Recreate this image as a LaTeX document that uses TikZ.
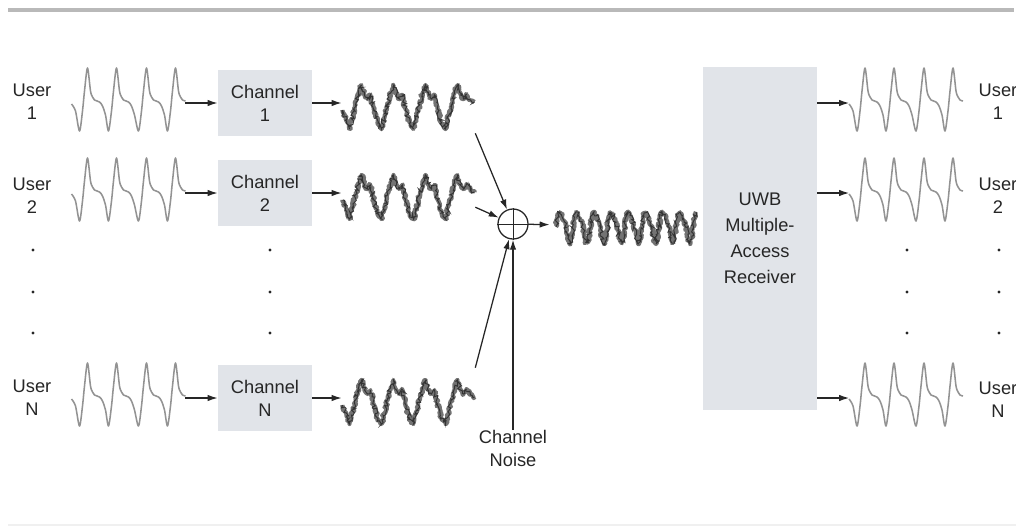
\documentclass[tikz,border=0pt]{standalone}
\usepackage{fontspec}
\setmainfont{Liberation Sans}
\usetikzlibrary{positioning,
        arrows.meta,
        decorations.pathmorphing}
\definecolor{boxgray}{RGB}{225,228,233}

\tikzset{
  lbl/.style={align=center, font=\fontsize{13}{16.3}\selectfont, text=black!85, inner sep=1pt},
  chbox/.style={lbl, fill=boxgray, minimum width=2.35cm, minimum height=1.65cm},
  wavebox/.style={inner sep=0, minimum width=2.825cm, minimum height=1.75cm},
  noisebox/.style={inner sep=0, minimum width=3.325cm, minimum height=1.5cm},
  arr/.style={-{Latex[length=2.5mm,width=1.6mm]}, line width=0.9pt, black!85},
  pulsepen/.style={gray!85, line width=1.1pt, line join=round},
  fuzzA/.style={black!55, line width=3pt, line join=round, decorate,
    decoration={random steps, segment length=1pt, amplitude=1.1pt}},
  fuzzB/.style={black!80, line width=0.7pt, decorate,
    decoration={random steps, segment length=1.2pt, amplitude=1.6pt}},
  % clean pulse train, drawn round the centre of its node
  pulses/.pic={
    \draw[pulsepen] plot[smooth, tension=0.5] coordinates {
      (-57,1) (-53,8) (-49,28)
      (-46,8) (-44,-12) (-41,-35) (-38,-12) (-36,-6) (-34,-3) (-29,-1) (-26,3) (-23,12) (-20,28)
      (-17,8) (-15,-12) (-12,-35) (-9,-12) (-7,-6) (-5,-3) (0,-1) (3,3) (6,12) (10,28)
      (13,8) (15,-12) (18,-35) (21,-12) (23,-6) (25,-3) (30,-1) (33,3) (36,12) (39,28)
      (42,8) (44,-12) (47,-35) (50,-12) (52,-6) (54,-3) (57,-2)};
  },
  % distorted pulse train after the channel
  noisy/.pic={
    \foreach \pen in {fuzzA,fuzzB}
      \draw[\pen] plot coordinates {
        (-66,7) (-62,18) (-59,26)
        (-53,2) (-50,-10) (-47,-18) (-44,-8) (-41,-4) (-38,-8) (-35,6) (-31,20) (-27,26)
        (-21,2) (-18,-10) (-15,-18) (-12,-8) (-9,-4) (-6,-8) (-3,6) (1,20) (5,26)
        (11,2) (14,-10) (17,-18) (20,-8) (23,-4) (26,-8) (29,6) (33,20) (37,26)
        (43,2) (46,-10) (49,-18) (52,-8) (55,-4) (58,-9) (62,-3) (66,-1)};
  },
  % sum of all users plus noise
  mixed/.pic={
    \foreach \pen in {fuzzA,fuzzB}
      \draw[\pen] plot[domain=-69:71, samples=71]
        (\x, {-15*sin(21*\x) - 4*sin(42*\x+40)});
  }
}

\begin{document}
\begin{tikzpicture}[x=0.025cm, y=-0.025cm]
  \useasboundingbox (0,0) rectangle (1016,527);
  \draw[gray!55, line width=0.1cm] (8,10) -- (1014,10);
  \draw[gray!12, line width=1pt] (8,525) -- (1016,525);

  % users and their pulses
  \node[lbl] (user1) at (32,102) {User\\1};
  \node[lbl] (user2) at (32,196) {User\\2};
  \node[lbl] (userN) at (32,398) {User\\N};
  \node[wavebox] (wave1) at (128.5,103) {};
  \node[wavebox] (wave2) at (128.5,193) {};
  \node[wavebox] (waveN) at (128.5,398) {};
  \foreach \w in {wave1,wave2,waveN} \pic at (\w) {pulses};

  % channels
  \node[chbox] (chan1) at (265,103) {Channel\\1};
  \node[chbox] (chan2) at (265,193) {Channel\\2};
  \node[chbox] (chanN) at (265,398) {Channel\\N};
  \node[noisebox] (dist1) at (408.5,103) {};
  \node[noisebox] (dist2) at (408.5,193) {};
  \node[noisebox] (distN) at (408.5,398) {};
  \foreach \w in {dist1,dist2,distN} \pic at (\w) {noisy};

  % adder and noise
  \node[circle, draw=black!85, line width=0.9pt, minimum size=0.75cm, inner sep=0] (add) at (513,224) {};
  \draw[line width=0.7pt, black!85] (add.north) -- (add.south) (add.west) -- (add.east);
  \node[lbl, inner sep=0] (noise) at (513,448) {Channel\\Noise};
  \node[inner sep=0, minimum width=3.75cm, minimum height=1.25cm] (mix) at (625,226) {};
  \pic at (mix) {mixed};

  % receiver and recovered pulses
  \node[lbl, fill=boxgray, minimum width=2.85cm, minimum height=8.575cm,
        font=\fontsize{13}{18.5}\selectfont] (rx) at (760,238.5) {UWB\\Multiple-\\Access\\Receiver};
  \node[wavebox] (out1) at (906,103) {};
  \node[wavebox] (out2) at (906,193) {};
  \node[wavebox] (outN) at (906,398) {};
  \foreach \w in {out1,out2,outN} \pic at (\w) {pulses};
  \node[lbl] (ruser1) at (998,102) {User\\1};
  \node[lbl] (ruser2) at (998,196) {User\\2};
  \node[lbl] (ruserN) at (998,400) {User\\N};

  % dots between rows 2 and N
  \foreach \x in {33,270,907,999}
    \foreach \y in {250,292,333}
      \fill[black!85] (\x,\y) circle (1.2pt);

  \draw[arr] (wave1) -- (chan1);
  \draw[arr] (wave2) -- (chan2);
  \draw[arr] (waveN) -- (chanN);
  \draw[arr] (chan1) -- (dist1);
  \draw[arr] (chan2) -- (dist2);
  \draw[arr] (chanN) -- (distN);
  \draw[arr] (dist1.south east) -- (add);
  \draw[arr] (dist2.-12) -- (add);
  \draw[arr] (distN.north east) -- (add);
  \draw[arr] (noise) -- (add);
  \draw[arr] (add) -- (mix);
  \draw[arr] (out1 -| rx.east) -- (out1);
  \draw[arr] (out2 -| rx.east) -- (out2);
  \draw[arr] (outN -| rx.east) -- (outN);
\end{tikzpicture}
\end{document}
